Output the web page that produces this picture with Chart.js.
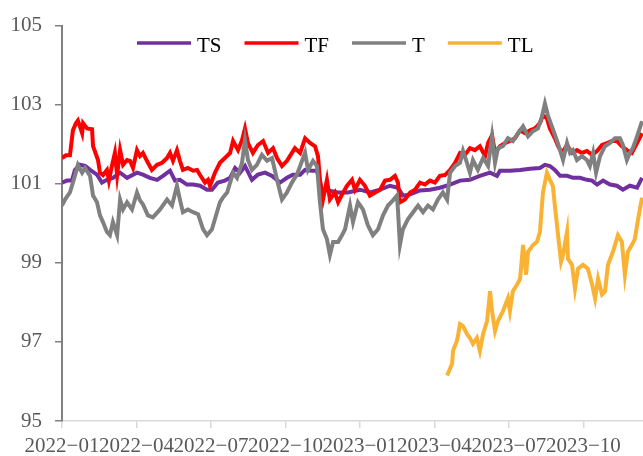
<!DOCTYPE html>
<html>
<head>
<meta charset="utf-8">
<script src="https://cdn.jsdelivr.net/npm/chart.js@4.4.1/dist/chart.umd.min.js"></script>
<style>
  body { margin: 0; background: #fff; }
  #wrap { width: 643px; height: 456px; }
</style>
</head>
<body>
<div id="wrap"><canvas id="futuresChart" width="643" height="456"></canvas></div>
<script>
// x positions are months since 2022-01 (0 = 2022-01, 3 = 2022-04 ...)
const tsMonths = [0,0.2,0.4,0.52,0.72,0.93,1.13,1.41,1.61,1.81,
  2.05,2.34,2.62,3.02,3.26,3.54,3.83,4.07,4.35,4.55,
  4.75,5.03,5.28,5.56,5.84,6.04,6.28,6.56,6.77,6.97,
  7.17,7.37,7.65,7.89,8.18,8.46,8.78,9.06,9.30,9.59,
  9.79,10.07,10.27,10.47,10.71,11.12,11.52,12.00,12.40,12.81,
  13.21,13.53,13.73,14.02,14.42,14.82,15.22,15.63,16.03,16.43,
  16.83,17.24,17.52,17.64,18.04,18.45,18.85,19.25,19.45,19.65,
  19.85,20.06,20.34,20.58,20.86,21.14,21.35,21.55,21.79,22.07,
  22.35,22.59,22.87,23.16,23.36];
const tsValues = [101.03,101.08,101.08,101.35,101.48,101.45,101.35,101.23,101.03,101.1,
  101.15,101.28,101.15,101.28,101.23,101.15,101.1,101.2,101.33,101.08,
  101.1,100.98,100.98,100.95,100.85,100.85,101.03,101.08,101.15,101.4,
  101.28,101.45,101.1,101.23,101.28,101.2,101.03,101.15,101.23,101.23,
  101.35,101.33,101.33,100.85,100.83,100.78,100.78,100.85,100.78,100.85,
  100.95,100.9,100.7,100.73,100.83,100.85,100.9,100.98,101.08,101.1,
  101.2,101.28,101.2,101.33,101.33,101.35,101.38,101.4,101.48,101.45,
  101.35,101.2,101.2,101.15,101.15,101.1,101.08,100.98,101.08,100.98,
  100.95,100.85,100.95,100.9,101.15];

const tfMonths = [0,0.16,0.32,0.44,0.56,0.64,0.72,0.81,0.85,1.01,
  1.21,1.25,1.45,1.53,1.65,1.81,1.89,2.01,2.13,2.22,
  2.34,2.46,2.62,2.74,2.86,3.02,3.14,3.26,3.42,3.62,
  3.83,4.03,4.23,4.35,4.47,4.63,4.75,4.87,5.07,5.28,
  5.44,5.56,5.76,5.88,5.96,6.16,6.36,6.56,6.77,6.89,
  7.09,7.25,7.37,7.49,7.69,7.89,8.10,8.30,8.50,8.66,
  8.86,9.06,9.26,9.38,9.59,9.79,9.99,10.19,10.31,10.39,
  10.51,10.67,10.79,10.99,11.12,11.28,11.48,11.68,11.80,12.00,
  12.20,12.40,12.61,12.81,13.01,13.21,13.41,13.53,13.61,13.81,
  14.02,14.22,14.42,14.62,14.82,15.02,15.22,15.42,15.63,15.83,
  16.03,16.23,16.43,16.63,16.83,17.04,17.16,17.32,17.44,17.64,
  17.84,18.04,18.24,18.45,18.65,18.85,19.05,19.25,19.37,19.53,
  19.65,19.85,19.98,20.14,20.34,20.54,20.74,20.94,21.14,21.35,
  21.55,21.75,21.95,22.15,22.35,22.55,22.75,22.95,23.16,23.36];
const tfValues = [101.65,101.72,101.72,102.35,102.53,102.6,102.45,102.28,102.53,102.4,
  102.38,101.95,101.6,101.28,101.22,101.35,101.08,101.45,101.78,101.22,
  101.85,101.48,101.6,101.58,101.4,101.85,101.7,101.78,101.58,101.35,
  101.48,101.53,101.65,101.78,101.58,101.85,101.58,101.35,101.4,101.33,
  101.35,101.22,101.03,101.1,100.95,101.28,101.53,101.65,101.78,102.08,
  101.85,102.1,102.4,102.03,101.78,101.98,102.08,101.78,101.9,101.65,
  101.45,101.58,101.78,101.9,101.78,102.15,102.03,101.95,101.7,101.1,
  100.6,101.1,100.6,100.78,100.53,100.73,100.95,101.1,100.85,101.1,
  100.95,100.7,100.78,100.85,101.08,101.1,101.2,101.03,100.53,100.6,
  100.78,100.85,101.03,100.98,101.08,101.03,101.2,101.22,101.35,101.53,
  101.78,101.73,101.9,101.85,101.95,101.7,102.03,102.23,101.78,101.95,
  102.03,102.08,102.15,102.35,102.28,102.35,102.4,102.53,102.73,102.65,
  102.4,102.15,101.95,101.78,101.98,101.78,101.85,101.78,101.83,101.73,
  101.83,101.98,102.03,102.08,102.08,101.95,101.85,101.78,102.03,102.28];

const tMonths = [0,0.12,0.32,0.52,0.64,0.81,0.93,1.13,1.25,1.41,
  1.53,1.65,1.81,1.93,2.05,2.22,2.34,2.46,2.62,2.82,
  3.02,3.14,3.26,3.46,3.66,3.95,4.23,4.43,4.63,4.75,
  4.87,5.07,5.28,5.48,5.68,5.84,6.04,6.24,6.36,6.48,
  6.65,6.77,6.89,7.05,7.25,7.37,7.49,7.65,7.85,8.05,
  8.26,8.46,8.66,8.86,9.06,9.26,9.46,9.67,9.79,9.91,
  10.11,10.27,10.39,10.51,10.67,10.79,10.92,11.12,11.28,11.40,
  11.60,11.72,11.92,12.12,12.32,12.52,12.73,12.93,13.13,13.33,
  13.49,13.53,13.61,13.73,13.93,14.14,14.34,14.54,14.74,14.94,
  15.14,15.34,15.51,15.63,15.83,16.03,16.15,16.31,16.43,16.55,
  16.75,16.96,17.16,17.32,17.44,17.56,17.76,17.96,18.16,18.37,
  18.57,18.77,18.97,19.17,19.33,19.45,19.57,19.73,19.93,20.06,
  20.18,20.34,20.46,20.58,20.74,20.94,21.14,21.26,21.39,21.51,
  21.67,21.87,22.07,22.27,22.47,22.59,22.75,22.87,22.99,23.16,
  23.36];
const tValues = [100.45,100.6,100.78,101.2,101.48,101.28,101.4,101.2,100.7,100.53,
  100.2,100.03,99.78,99.7,100.03,99.7,100.6,100.35,100.53,100.35,
  100.78,100.58,100.48,100.2,100.15,100.35,100.6,100.45,100.95,100.6,
  100.28,100.35,100.28,100.23,99.85,99.7,99.85,100.28,100.53,100.65,
  100.78,101.03,101.28,101.15,101.53,102.1,101.6,101.35,101.48,101.73,
  101.58,101.65,101.1,100.6,100.78,101.03,101.23,101.58,101.78,101.35,
  101.58,101.45,100.53,99.85,99.6,99.2,99.53,99.53,99.7,99.85,
  100.45,100.03,100.53,100.35,99.95,99.7,99.85,100.2,100.45,100.58,
  100.7,100.35,99.45,99.85,100.1,100.28,100.45,100.28,100.45,100.35,
  100.6,100.78,100.6,101.28,101.45,101.53,101.83,101.53,101.28,101.6,
  101.35,101.65,101.45,102.2,101.53,101.9,101.95,102.15,102.08,102.28,
  102.45,102.2,102.33,102.4,102.7,103.03,102.73,102.45,102.1,101.85,
  101.6,102.03,101.78,101.85,101.6,101.7,101.6,101.45,101.78,101.28,
  101.7,101.95,102.03,102.15,102.15,101.98,101.6,101.78,101.9,102.2,
  102.58];

const tlMonths = [15.51,15.71,15.75,15.91,16.03,16.15,16.31,16.43,16.55,16.71,
  16.83,16.96,17.12,17.24,17.32,17.44,17.56,17.76,17.96,18.04,
  18.16,18.33,18.45,18.57,18.69,18.77,18.97,19.13,19.25,19.37,
  19.53,19.65,19.77,19.85,19.98,20.10,20.18,20.34,20.38,20.54,
  20.66,20.78,20.98,21.18,21.35,21.47,21.59,21.75,21.87,21.99,
  22.19,22.39,22.55,22.67,22.79,22.95,23.07,23.20,23.36];
const tlValues = [96.15,96.45,96.78,97.03,97.45,97.4,97.2,97.1,96.95,97.1,
  96.78,97.2,97.53,98.28,97.78,97.28,97.53,97.78,98.1,97.78,
  98.28,98.45,98.6,99.45,98.7,99.28,99.45,99.53,99.78,100.78,
  101.28,101.1,100.95,100.45,99.7,99.03,99.2,99.78,99.1,98.95,
  98.35,98.85,98.95,98.85,98.45,98.1,98.6,98.2,98.28,98.95,
  99.28,99.7,99.53,98.7,99.28,99.45,99.6,100.1,100.65];

const seriesNames = ['TS', 'TF', 'T', 'TL'];
const seriesColors = ['#7030A0', '#FF0000', '#808080', '#F9B233'];
const yTicks = [95, 97, 99, 101, 103, 105];

function toPoints(months, values) {
  return months.map((m, i) => ({ x: m, y: values[i] }));
}

function monthLabel(v) {
  const year = 2022 + Math.floor(v / 12);
  const month = (v % 12) + 1;
  return year + '\u2212' + String(month).padStart(2, '0');
}

const allSeries = [
  toPoints(tsMonths, tsValues),
  toPoints(tfMonths, tfValues),
  toPoints(tMonths, tValues),
  toPoints(tlMonths, tlValues)
];

const serif = '"Liberation Serif", "Times New Roman", serif';

// legend drawn inside the plot, line sample + label
const lineLegend = {
  id: 'lineLegend',
  afterDraw(chart) {
    const ctx = chart.ctx;
    ctx.save();
    ctx.font = '21px ' + serif;
    ctx.textBaseline = 'alphabetic';
    let x = 137;
    chart.data.datasets.forEach(ds => {
      ctx.strokeStyle = ds.borderColor;
      ctx.lineWidth = 3.5;
      ctx.beginPath();
      ctx.moveTo(x, 43);
      ctx.lineTo(x + 54, 43);
      ctx.stroke();
      ctx.fillStyle = '#000';
      ctx.fillText(ds.label, x + 60, 52);
      x += 60 + ctx.measureText(ds.label).width + 23;
    });
    ctx.restore();
  }
};

new Chart(document.getElementById('futuresChart'), {
  type: 'line',
  data: {
    datasets: allSeries.map((pts, i) => ({
      label: seriesNames[i],
      data: pts,
      borderColor: seriesColors[i],
      backgroundColor: seriesColors[i],
      borderWidth: 4,
      pointRadius: 0,
      tension: 0,
      order: 3 - i
    }))
  },
  options: {
    responsive: false,
    animation: false,
    devicePixelRatio: 1,
    layout: { padding: { top: 21, right: 0, left: 0, bottom: 0 } },
    plugins: {
      legend: { display: false },
      tooltip: { enabled: false }
    },
    scales: {
      x: {
        type: 'linear',
        min: 0,
        max: 23.4,
        afterFit: s => { s.height = 35; },
        border: { display: true, color: '#D9D9D9', width: 1.5 },
        grid: { drawOnChartArea: false, tickLength: 7, color: '#D9D9D9', lineWidth: 1.5 },
        ticks: {
          stepSize: 3,
          includeBounds: false,
          autoSkip: false,
          maxRotation: 0,
          padding: 6,
          color: '#595959',
          font: { family: serif, size: 21 },
          callback: v => monthLabel(v)
        }
      },
      y: {
        min: 95,
        max: 105,
        afterFit: s => { s.width = 62; },
        afterBuildTicks: s => { s.ticks = yTicks.map(v => ({ value: v })); },
        border: { display: true, color: '#808080', width: 2 },
        grid: { drawOnChartArea: false, tickLength: 7, color: '#808080', lineWidth: 1.5 },
        ticks: {
          padding: 13,
          color: '#595959',
          font: { family: serif, size: 21 }
        }
      }
    }
  },
  plugins: [lineLegend]
});
</script>
</body>
</html>
